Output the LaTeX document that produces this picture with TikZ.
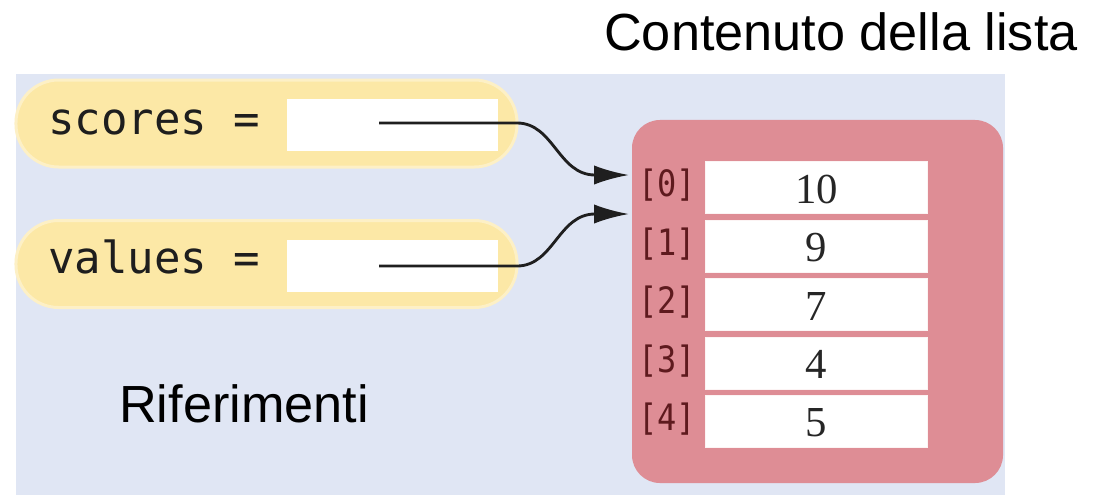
\documentclass[tikz,border=0pt]{standalone}
\usepackage{fontspec}
\newfontfamily\sansf{Liberation Sans}
\newfontfamily\monof{DejaVu Sans Mono}
\newfontfamily\idxf[FakeStretch=0.88]{DejaVu Sans Mono}
\newfontfamily\numf{Liberation Serif}
\usetikzlibrary{arrows.meta}
\definecolor{bgblue}{HTML}{E0E6F4}
\definecolor{pillyel}{HTML}{FCE8A6}
\definecolor{pillhalo}{HTML}{FDF0C6}
\definecolor{listpink}{HTML}{DE8D95}
\definecolor{idxred}{HTML}{5E1A1E}
\definecolor{inkdark}{HTML}{1E1E1E}
\tikzset{
  pill/.style={fill=pillyel, draw=pillhalo, line width=0.09cm, rounded corners=1.28cm,
    minimum width=15.03cm, minimum height=2.61cm, inner sep=0pt},
  refbox/.style={fill=white, draw=none, minimum width=6.33cm, minimum height=1.56cm, inner sep=0pt},
  varlabel/.style={anchor=base west, inner sep=0pt, text=inkdark,
    font=\monof\fontsize{37.6pt}{40pt}\selectfont},
  listbox/.style={fill=listpink, draw=none, rounded corners=0.84cm,
    minimum width=11.13cm, minimum height=10.89cm, inner sep=0pt},
  cell/.style={fill=white, draw=white!90!listpink, line width=0.5pt, minimum width=6.66cm,
    minimum height=1.56cm, inner sep=0pt},
  idx/.style={inner sep=0pt, text=idxred, font=\idxf\fontsize{31pt}{33pt}\selectfont},
  num/.style={inner sep=0pt, text=black!85, font=\numf\fontsize{36.5pt}{40pt}\selectfont},
  caption/.style={inner sep=0pt, anchor=base, font=\sansf\fontsize{44.6pt}{48pt}\selectfont},
  refarrow/.style={line width=0.085cm, draw=black!88, -{Latex[length=1.05cm,width=0.58cm]}}
}
\begin{document}
\begin{tikzpicture}[x=0.03cm, y=-0.03cm]
\useasboundingbox (0,0) rectangle (1104,495);
\fill[white] (0,0) rectangle (1104,495);
% background panel
\fill[bgblue] (16,74) rectangle (1005,495);

% captions
\node[caption] (title) at (841,50) {Contenuto della lista};
\node[caption] (refs) at (244,422) {Riferimenti};

% reference variables
\node[pill] (pscores) at (266.5,123.5) {};
\node[refbox] (bscores) at (392.5,125) {};
\node[varlabel] (lscores) at (48,134) {scores =};

\node[pill] (pvalues) at (266.5,264) {};
\node[refbox] (bvalues) at (392.5,266) {};
\node[varlabel] (lvalues) at (48,273) {values =};

% list object
\node[listbox] (list) at (817.5,301.5) {};
\foreach \i/\v/\y in {0/10/187.5, 1/9/246, 2/7/304.5, 3/4/363, 4/5/421.5}{
  \node[cell] (c\i) at (816.5,\y) {};
  \node[num] (n\i) at (816.5,\y+1.5) {\v};
  \node[idx] (i\i) at (667,\y-2) {[\i]};
}

% connectors
\coordinate (s0) at (379,123);
\coordinate (s1) at (379,266);
\coordinate (a0) at (629,175);
\coordinate (a1) at (629,214);
\draw[refarrow] (s0) -- ++(138,0) to[out=0,in=180] ++(78,52) -- (a0);
\draw[refarrow] (s1) -- ++(138,0) to[out=0,in=180] ++(78,-52) -- (a1);
\end{tikzpicture}
\end{document}
